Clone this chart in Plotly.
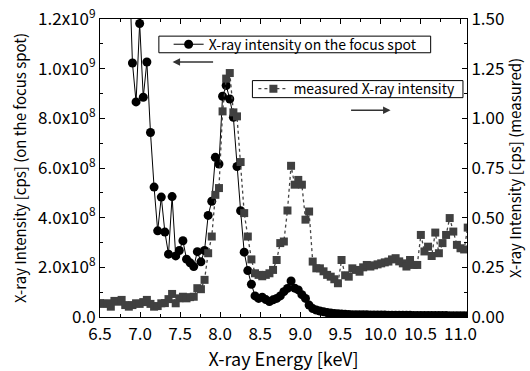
import plotly.graph_objects as go

# ---- data ----
energy_keV = [
    6.5, 6.545, 6.59, 6.635, 6.68, 6.725, 6.77, 6.815, 6.86, 6.905,
    6.95, 6.995, 7.04, 7.085, 7.13, 7.175, 7.22, 7.265, 7.31, 7.355,
    7.4, 7.445, 7.49, 7.535, 7.58, 7.625, 7.67, 7.715, 7.76, 7.805,
    7.85, 7.895, 7.94, 7.985, 8.03, 8.075, 8.12, 8.165, 8.21, 8.255,
    8.3, 8.345, 8.39, 8.435, 8.48, 8.525, 8.57, 8.615, 8.66, 8.705,
    8.75, 8.795, 8.84, 8.885, 8.93, 8.975, 9.02, 9.065, 9.11, 9.155,
    9.2, 9.245, 9.29, 9.335, 9.38, 9.425, 9.47, 9.515, 9.56, 9.605,
    9.65, 9.695, 9.74, 9.785, 9.83, 9.875, 9.92, 9.965, 10.01, 10.055,
    10.1, 10.145, 10.19, 10.235, 10.28, 10.325, 10.37, 10.415, 10.46, 10.505,
    10.55, 10.595, 10.64, 10.685, 10.73, 10.775, 10.82, 10.865, 10.91, 10.955,
    11.0, 11.045, 11.09,
]

focus_spot_cps = [
    3.4e9, 3.1e9, 2.8e9, 2.5e9, 2.2e9, 2.0e9, 1.8e9, 1.65e9, 1.46e9, 1.023e9,
    8.66e8, 1.182e9, 8.85e8, 1.027e9, 7.43e8, 5.23e8, 3.47e8, 4.83e8, 3.42e8, 2.53e8,
    4.85e8, 2.46e8, 2.68e8, 3.07e8, 2.33e8, 2.18e8, 2.03e8, 2.63e8, 2.22e8, 2.68e8,
    4.09e8, 4.66e8, 6.43e8, 6.16e8, 8.89e8, 9.32e8, 8.78e8, 8.04e8, 6.06e8, 4.28e8,
    2.61e8, 1.87e8, 1.32e8, 8.5e7, 7.5e7, 8.0e7, 7.0e7, 6.2e7, 6.9e7, 7.5e7,
    8.5e7, 1.02e8, 1.15e8, 1.45e8, 1.16e8, 1.09e8, 9.0e7, 7.5e7, 4.8e7, 3.4e7,
    2.8e7, 2.4e7, 2.1e7, 1.8e7, 1.6e7, 1.4e7, 1.3e7, 1.2e7, 1.1e7, 1.0e7,
    9.5e6, 9.2e6, 9.0e6, 8.8e6, 8.6e6, 8.4e6, 8.2e6, 8.0e6, 7.8e6, 7.6e6,
    7.4e6, 7.2e6, 7.0e6, 6.9e6, 6.8e6, 6.7e6, 6.6e6, 6.5e6, 6.4e6, 6.3e6,
    6.2e6, 6.1e6, 6.0e6, 5.9e6, 5.8e6, 5.7e6, 5.6e6, 5.5e6, 5.4e6, 5.3e6,
    5.2e6, 5.1e6, 5.0e6,
]

measured_cps = [
    0.07, 0.066, 0.069, 0.052, 0.081, 0.077, 0.086, 0.06, 0.052, 0.06,
    0.069, 0.066, 0.075, 0.086, 0.066, 0.052, 0.055, 0.069, 0.07, 0.09,
    0.116, 0.069, 0.094, 0.102, 0.094, 0.10, 0.102, 0.145, 0.14, 0.187,
    0.321, 0.405, 0.615, 0.649, 1.035, 1.20, 1.228, 1.03, 1.01, 0.78,
    0.523, 0.405, 0.29, 0.22, 0.212, 0.205, 0.212, 0.22, 0.237, 0.287,
    0.372, 0.38, 0.536, 0.761, 0.666, 0.69, 0.666, 0.49, 0.531, 0.279,
    0.245, 0.245, 0.23, 0.212, 0.203, 0.19, 0.17, 0.287, 0.21, 0.203,
    0.245, 0.237, 0.228, 0.25, 0.262, 0.254, 0.26, 0.265, 0.27, 0.275,
    0.279, 0.29, 0.296, 0.28, 0.27, 0.254, 0.287, 0.262, 0.262, 0.413,
    0.33, 0.354, 0.307, 0.425, 0.321, 0.372, 0.413, 0.498, 0.43, 0.363,
    0.346, 0.34, 0.45,
]

x_tick_vals = [6.5, 7.0, 7.5, 8.0, 8.5, 9.0, 9.5, 10.0, 10.5, 11.0]
x_tick_text = ["6.5", "7.0", "7.5", "8.0", "8.5", "9.0", "9.5", "10.0", "10.5", "11.0"]
left_tick_vals = [0, 2e8, 4e8, 6e8, 8e8, 1.0e9, 1.2e9]
left_tick_text = ["0.0", "2.0x10<sup>8</sup>", "4.0x10<sup>8</sup>", "6.0x10<sup>8</sup>",
                  "8.0x10<sup>8</sup>", "1.0x10<sup>9</sup>", "1.2x10<sup>9</sup>"]
right_tick_vals = [0, 0.25, 0.5, 0.75, 1.0, 1.25, 1.5]
right_tick_text = ["0.00", "0.25", "0.50", "0.75", "1.00", "1.25", "1.50"]

FONT = "Noto Sans CJK JP"

fig = go.Figure()

fig.add_trace(go.Scatter(
    x=energy_keV, y=measured_cps, yaxis="y2", name="measured X-ray intensity",
    mode="lines+markers", legend="legend2", showlegend=True,
    line=dict(color="#444444", width=1.3, dash="dot"),
    marker=dict(symbol="square", size=8, color="#404040"),
))
fig.add_trace(go.Scatter(
    x=energy_keV, y=focus_spot_cps, name="X-ray intensity on the focus spot",
    mode="lines+markers", legend="legend", showlegend=True,
    line=dict(color="black", width=1),
    marker=dict(symbol="circle", size=9, color="black"),
))

axis_font = dict(family=FONT, size=17, color="black")

fig.update_layout(
    width=530, height=371,
    margin=dict(l=100, r=63, t=19, b=54, autoexpand=False),
    paper_bgcolor="white", plot_bgcolor="white",
    font=dict(family=FONT, size=15, color="black"),
    showlegend=True,
    xaxis=dict(
        range=[6.5, 11.081], tickvals=x_tick_vals, ticktext=x_tick_text,
        automargin=False, ticklabelstandoff=2,
        ticks="inside", ticklen=5, tickcolor="black", showline=True, linecolor="black",
        linewidth=1, mirror="ticks", showgrid=False, zeroline=False,
        tickfont=axis_font,
        minor=dict(dtick=0.25, tick0=6.5, ticks="inside", ticklen=3, tickcolor="black"),
        title=dict(text="X-ray Energy [keV]", font=dict(family=FONT, size=18), standoff=2),
    ),
    yaxis=dict(
        range=[0, 1.2e9], tickvals=left_tick_vals, ticktext=left_tick_text,
        automargin=False,
        ticks="inside", ticklen=5, tickcolor="black", showline=True, linecolor="black",
        linewidth=1, showgrid=False, zeroline=False, tickfont=axis_font,
        minor=dict(dtick=1e8, tick0=0, ticks="inside", ticklen=3, tickcolor="black"),
        title=dict(text="X-ray Intensity [cps] (on the focus spot)",
                   font=dict(family=FONT, size=15), standoff=7),
    ),
    yaxis2=dict(
        range=[0, 1.5], overlaying="y", side="right", anchor="x",
        automargin=False,
        tickvals=right_tick_vals, ticktext=right_tick_text,
        ticks="inside", ticklen=5, tickcolor="black", showline=True, linecolor="black",
        linewidth=1, showgrid=False, zeroline=False, tickfont=axis_font,
        minor=dict(dtick=0.125, tick0=0, ticks="inside", ticklen=3, tickcolor="black"),
        title=dict(text="X-ray Intensity [cps] (measured)",
                   font=dict(family=FONT, size=15), standoff=2),
    ),
    legend=dict(x=0.187, y=0.914, xanchor="left", yanchor="middle",
                bgcolor="rgba(0,0,0,0)", borderwidth=0, font=dict(family=FONT, size=14)),
    legend2=dict(x=0.418, y=0.7647, xanchor="left", yanchor="middle",
                 bgcolor="rgba(0,0,0,0)", borderwidth=0, font=dict(family=FONT, size=14)),
    shapes=[
        dict(type="rect", xref="paper", yref="paper", x0=0.1604, x1=0.901, y0=0.8867, y1=0.9425,
             line=dict(color="black", width=1), fillcolor="white", layer="above"),
        dict(type="rect", xref="paper", yref="paper", x0=0.4153, x1=0.989, y0=0.7361, y1=0.7933,
             line=dict(color="black", width=1), fillcolor="white", layer="above"),
    ],
    annotations=[
        dict(xref="paper", yref="paper", x=0.1978, y=0.856, ax=42, ay=0, text="",
             showarrow=True, arrowhead=2, arrowsize=1, arrowwidth=1.5, arrowcolor="#333333"),
        dict(xref="paper", yref="paper", x=0.7918, y=0.6934, ax=-41, ay=0, text="",
             showarrow=True, arrowhead=2, arrowsize=1, arrowwidth=1.5, arrowcolor="#333333"),
    ],
)

fig.write_html("out.html",
               config={"displayModeBar": False},
               post_script="document.body.style.margin='0';document.body.style.padding='0';")
